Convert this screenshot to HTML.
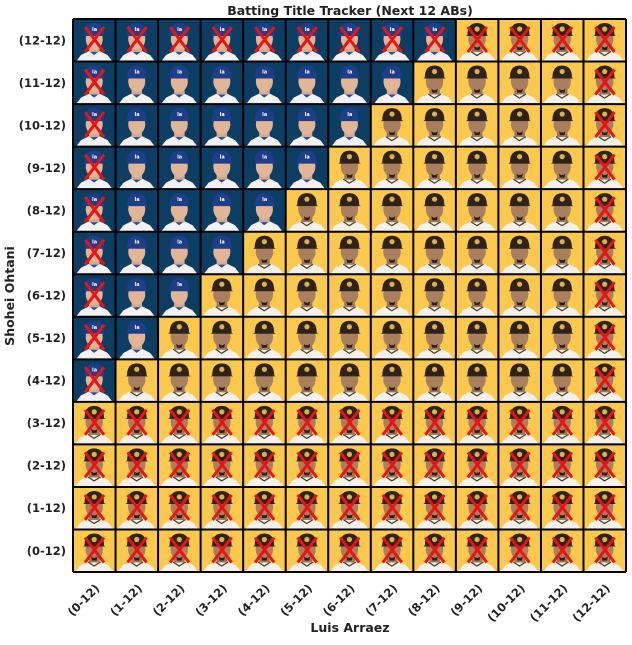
<!DOCTYPE html>
<html><head><meta charset="utf-8"><style>
html,body{margin:0;padding:0;background:#fff;}
svg text{font-family:"DejaVu Sans","Liberation Sans",sans-serif;font-weight:bold;fill:#222;}
</style></head><body>
<svg id="s" width="632" height="640" viewBox="0 0 632 640" xmlns="http://www.w3.org/2000/svg">
<defs>
<symbol id="oh" viewBox="0 0 42.5 42.5">
<rect width="42.5" height="42.5" fill="#0c3d63"/>
<path d="M3 42.5 L8 36 L16 32 L26.5 32 L34.5 36 L39.5 42.5Z" fill="#f2f2f4"/>
<path d="M16 32 L21 36 L26.5 32Z" fill="#1e4fa0"/>
<rect x="16" y="25" width="10.5" height="8" fill="#d8a88a"/>
<ellipse cx="21.2" cy="20" rx="8.5" ry="10.5" fill="#e2b597"/>
<path d="M11.5 16 Q11.5 4 21.2 4 Q31 4 31 16 L32.5 17 L10 17Z" fill="#1d3e8a"/>
<text x="19" y="12" font-size="5" style="fill:#fff">la</text>
</symbol>
<symbol id="ar" viewBox="0 0 42.5 42.5">
<rect width="42.5" height="42.5" fill="#fdc94d"/>
<path d="M2 42.5 L7 36 L15 32 L27.5 32 L35.5 36 L40.5 42.5Z" fill="#f4f1ea"/>
<path d="M15 32.5 L21 36.5 L27.5 32.5" fill="none" stroke="#4a3a20" stroke-width="1.2"/>
<rect x="16" y="25" width="10.5" height="8" fill="#9c7458"/>
<ellipse cx="21.2" cy="20" rx="8.7" ry="10.5" fill="#a9805f"/>
<path d="M18 27 Q21.2 30 24.5 27 L23.5 31 L19 31Z" fill="#2a1e16"/>
<path d="M11.5 16 Q11.5 4 21.2 4 Q31 4 31 16 L32.5 17 L10 17Z" fill="#2f2219"/>
<circle cx="21.2" cy="10" r="2.6" fill="#d9b24a"/>
</symbol>
</defs>
<text x="350" y="15" font-size="12.5" text-anchor="middle">Batting Title Tracker (Next 12 ABs)</text>
<g id="g"></g>
<text transform="translate(14,296) rotate(-90)" font-size="12.5" text-anchor="middle">Shohei Ohtani</text>
<text x="350" y="632" font-size="12.5" text-anchor="middle">Luis Arraez</text>
</svg>
<script>
var g=document.getElementById('g'),h='',x0=73,y0=19,c=42.54;
for(var r=0;r<13;r++){for(var k=0;k<13;k++){
 var x=x0+k*c,y=y0+(12-r)*c,blue=k<=r-4;
 h+='<use href="#'+(blue?'oh':'ar')+'" x="'+x+'" y="'+y+'" width="'+c+'" height="'+c+'"/>';
 var cross=(r==12)||(r<=3)||(k==12)||(blue&&k==0);
 if(cross){h+='<path d="M'+(x+12)+' '+(y+8)+' L'+(x+31)+' '+(y+33)+' M'+(x+31)+' '+(y+8)+' L'+(x+12)+' '+(y+33)+'" stroke="#ee1111" stroke-width="3"/>';}
}}
for(var i=0;i<=13;i++){
 h+='<line x1="'+(x0+i*c)+'" y1="'+y0+'" x2="'+(x0+i*c)+'" y2="'+(y0+13*c)+'" stroke="#000" stroke-width="2"/>';
 h+='<line x1="'+x0+'" y1="'+(y0+i*c)+'" x2="'+(x0+13*c)+'" y2="'+(y0+i*c)+'" stroke="#000" stroke-width="2"/>';
}
for(var i=0;i<13;i++){
 h+='<text x="66" y="'+(y0+(12-i)*c+c/2+4)+'" font-size="11.5" text-anchor="end">('+i+'-12)</text>';
 var cx=x0+i*c+c/2+6;
 h+='<text transform="translate('+cx+',589) rotate(-45)" font-size="11.5" text-anchor="end">('+i+'-12)</text>';
}
g.innerHTML=h;
</script>
</body></html>
